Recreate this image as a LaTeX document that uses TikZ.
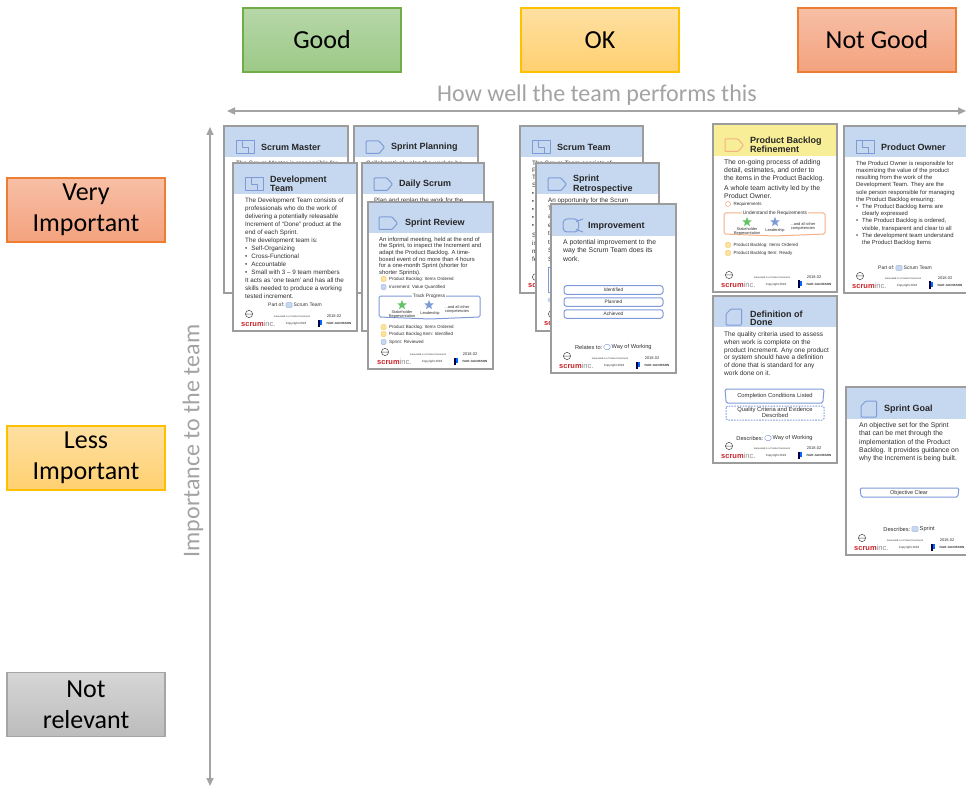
\documentclass[tikz,border=0pt]{standalone}
\usepackage{fontspec}
\setmainfont{Liberation Sans}
\newfontfamily\calib{Carlito}
\usetikzlibrary{arrows.meta,shapes.geometric}
\definecolor{cardgray}{HTML}{9C9C9C}
\definecolor{hdrblue}{HTML}{C6D8F0}
\definecolor{hdryellow}{HTML}{F8EE98}
\definecolor{iconblue}{HTML}{7E9BD8}
\definecolor{iconorange}{HTML}{F4B183}
\definecolor{ink}{HTML}{303030}
\definecolor{chipyellow}{HTML}{FDE39A}
\definecolor{chipedge}{HTML}{F6CF7A}
\definecolor{scrumred}{HTML}{C9252B}
\definecolor{axisgray}{HTML}{A3A3A3}
\newcommand\fs[2]{\fontsize{#1}{#2}\selectfont}
\newcommand\plf{5}
\tikzset{
  x=1pt,y=-1pt,
  cardline/.style={draw=cardgray,line width=1.7pt},
  bigbox/.style={minimum width=158pt,minimum height=64pt,inner sep=0pt,line width=1.2pt,font=\calib\fs{26}{31.5},align=center,text=black},
  goodbox/.style={bigbox,draw=HTMLgood,top color=HTMLgoodt,bottom color=HTMLgoodb},
  okbox/.style={bigbox,draw=HTMLok,top color=HTMLokt,bottom color=HTMLokb},
  badbox/.style={bigbox,draw=HTMLbad,top color=HTMLbadt,bottom color=HTMLbadb},
  nonebox/.style={bigbox,draw=HTMLnone,top color=HTMLnonet,bottom color=HTMLnoneb},
  axisline/.style={draw=axisgray,line width=1.5pt,{Triangle[length=8pt,width=7pt]}-{Triangle[length=8pt,width=7pt]}},
  axislabel/.style={text=axisgray,font=\calib\fs{24}{28},inner sep=0pt},
  bodytxt/.style={anchor=north west,inner sep=0pt,align=left,text=ink},
  titletxt/.style={anchor=west,inner sep=0pt,align=left,text=black!85,font=\bfseries\fs{9}{8}},
  small/.style={inner sep=0pt,text=ink,align=center},
  icon/.style={draw=iconblue,line width=1pt,line join=round},
  iconO/.style={draw=iconorange,line width=1pt,line join=round},
  chipY/.style={draw=chipedge,fill=chipyellow,line width=.5pt,rounded corners=1.2pt},
  chipB/.style={draw=iconblue!70,fill=hdrblue,line width=.5pt,rounded corners=1.2pt},
  chipW/.style={draw=iconorange,fill=white,line width=.5pt,rounded corners=1.8pt},
  chipWB/.style={draw=iconblue,fill=white,line width=.5pt,rounded corners=1.8pt},
  stateB/.style={draw=iconblue,fill=white,line width=1pt,rounded corners=1.5pt},
  stateO/.style={draw=iconorange,fill=white,line width=1pt,rounded corners=1.5pt},
}
\definecolor{HTMLgood}{HTML}{70AD47}\definecolor{HTMLgoodt}{HTML}{B7D7A9}\definecolor{HTMLgoodb}{HTML}{9CC987}
\definecolor{HTMLok}{HTML}{FFC000}\definecolor{HTMLokt}{HTML}{FEE0A2}\definecolor{HTMLokb}{HTML}{FFD070}
\definecolor{HTMLbad}{HTML}{ED7D31}\definecolor{HTMLbadt}{HTML}{F7BFA6}\definecolor{HTMLbadb}{HTML}{F4A27E}
\definecolor{HTMLnone}{HTML}{A5A5A5}\definecolor{HTMLnonet}{HTML}{D6D6D6}\definecolor{HTMLnoneb}{HTML}{BCBCBC}
% id x0 y0 x1 y1 yh colour
\newcommand\cardbox[7]{%
  \fill[white] (#2,#3) rectangle (#4,#5);
  \fill[#7] (#2,#3) rectangle (#4,#6);
  \draw[cardline] (#2,#3) rectangle (#4,#5);
}
\newcommand\ctitle[4]{\node[titletxt] (#1) at (#2,#3) {#4};}
% id x y size lead text ; y = centre of the first line
\newcommand\cbody[6]{\node[bodytxt,font=\fs{#4}{#5}] (#1) at (#2,{#3-0.38*#4}) {\vphantom{T}#6};}
\newcommand\bl[1]{\makebox[1em][l]{•}#1}
\newcommand\bc[1]{\hspace*{1em}#1}
\newcommand\iconteam[3]{\begin{scope}[shift={(#1,#2)}]
  \draw[#3] (0,0) rectangle (18.5,12.5);
  \draw[#3] (6,0) -- (6,6.2) -- (12.5,6.2) -- (12.5,12.5);
\end{scope}}
\newcommand\iconsprint[3]{\begin{scope}[shift={(#1,#2)}]
  \draw[#3,rounded corners=.8pt] (0,0) -- (13,0) -- (18.5,6.2) -- (13,12.5) -- (0,12.5) -- cycle;
\end{scope}}
\newcommand\iconimpr[3]{\begin{scope}[shift={(#1,#2)}]
  \draw[#3,rounded corners=4pt] (0,0) rectangle (15.5,13);
  \draw[#3] (13,2.5) -- (20,0) (13,10.5) -- (20,13);
\end{scope}}
\newcommand\iconwork[3]{\begin{scope}[shift={(#1,#2)}]
  \draw[#3,rounded corners=.8pt] (5,0) -- (15.5,0) -- (15.5,16) -- (0,16) -- (0,5) -- cycle;
\end{scope}}
% id x0 y1 : the part of a footer that shows on a card lying under another
\newcommand\cardlogo[3]{\begin{scope}[shift={(#2,#3)}]
  \draw[black!70,line width=.5pt] (16,-17) circle (3.6) (12.6,-17) -- (19.4,-17);
  \node[inner sep=0pt,anchor=west,font=\bfseries\fs{7.5}{8}] (#1logo) at (8,-7)
     {\textcolor{scrumred}{scrum}\textcolor{black!45}{\mdseries inc.}};
\end{scope}}
% id x0 y1
\newcommand\cardfoot[3]{\cardlogo{#1}{#2}{#3}\begin{scope}[shift={(#2,#3)}]
  \node[small,font=\fs{2.4}{3}] (#1gen) at (59,-14) {Generated in a Product Increment};
  \node[small,font=\fs{3}{3}] (#1copy) at (63,-7) {Copyright 2018};
  \node[small,font=\fs{4}{4}] (#1date) at (101,-15) {2018.02};
  \fill[black!75!blue] (85,-11.5) rectangle (86.5,-4.5);
  \fill[blue!60!cyan] (87.3,-11) rectangle (89,-6);
  \node[small,font=\bfseries\fs{3}{3}] (#1ivar) at (106,-8) {IVAR JACOBSON};
\end{scope}}
% id xicon y left-label style
\newcommand\partline[5]{%
  \draw[#5] (#2-3.2,#3-2.5) rectangle (#2+3.2,#3+2.5);
  \node[small,anchor=east,font=\fs{\plf}{5}] (#1a) at (#2-4.5,#3) {#4};
}
\newcommand\partright[4]{\node[small,anchor=west,font=\fs{\plf}{5}] (#1b) at (#2+4.5,#3) {#4};}
% id x y chip-style text
\newcommand\chip[5]{%
  \draw[#4] (#2,#3-2.5) rectangle (#2+5,#3+2.5);
  \node[small,anchor=west,font=\fs{4.5}{5}] (#1) at (#2+8,#3) {#5};
}
% name x y colour
\newcommand\astar[4]{\node[star,star points=5,star point ratio=2.3,fill=#4,draw=none,inner sep=0pt,minimum size=10pt] (#1) at (#2,#3) {};}
% state-with-bulge: id x0 y0 x1 y1 style
\newcommand\bulge[6]{\draw[#6] (#2,#3) -- (#4,#3) -- (#4,#5) -- ({(#2+#4)/2},#5+2) -- (#2,#5) -- cycle;}
\newcommand\slant[6]{%
  \draw[#6] (#2,#3) -- (#4,#3) -- (#4-1.2,#5) -- (#2+1.2,#5) -- cycle;
}
\begin{document}
\begin{tikzpicture}
\useasboundingbox (0,0) rectangle (966,786);
\fill[white] (0,0) rectangle (966,786);
% column and row headings
\node[goodbox] (good) at (322,40) {Good};
\node[okbox] (ok) at (600,40) {OK};
\node[badbox] (notgood) at (877,40) {Not Good};
\node[badbox] (very) at (86,210) {\raisebox{-2pt}{Very}\\\raisebox{-2pt}{Important}};
\node[okbox] (less) at (86,458) {\raisebox{-2pt}{Less}\\\raisebox{-2pt}{Important}};
\node[nonebox] (notrel) at (86,704.5) {Not\\relevant};
% axes
\coordinate (hL) at (227,111); \coordinate (hR) at (966,111);
\coordinate (vT) at (210,127); \coordinate (vB) at (210,786);
\draw[axisline] (hL) -- (hR);
\draw[axisline] (vT) -- (vB);
\node[axislabel] (hlabel) at (597,95) {How well the team performs this};
\node[axislabel,rotate=90] (vlabel) at (193,441) {Importance to the team};
% ---- Scrum Master
\cardbox{sm}{224}{126}{348}{293}{157}{hdrblue}
\iconteam{236}{141}{icon}
\ctitle{smt}{261}{147}{Scrum Master}
\cbody{smb}{236}{163}{6.3}{8}{The Scrum Master is responsible for}
\fill[scrumred] (231.6,283.5) rectangle (233,288);
% ---- Sprint Planning
\cardbox{sp}{354}{126}{478}{293}{157}{hdrblue}
\iconsprint{366}{141}{icon}
\ctitle{spt}{391}{147}{Sprint Planning}
\cbody{spb}{366}{163}{6.3}{8}{Collaboratively plan the work to be}
% ---- Development Team
\cardbox{dt}{233}{163}{357}{331}{194}{hdrblue}
\iconteam{245}{178}{icon}
\ctitle{dtt}{270}{184}{Development\\Team}
\cbody{dtb}{245}{200}{6.3}{8}{The Development Team consists of\\
professionals who do the work of\\
delivering a potentially releasable\\
Increment of “Done” product at the\\
end of each Sprint.\\
The development team is:\\
\bl{Self-Organizing}\\
\bl{Cross-Functional}\\
\bl{Accountable}\\
\bl{Small with 3 – 9 team members}\\
It acts as ‘one team’ and has all the\\
skills needed to produce a working\\
tested increment.}
\partline{dtp}{289}{305}{Part of:}{chipB}
\partright{dtp}{289}{305}{Scrum Team}
\cardfoot{dt}{233}{331}
% ---- Daily Scrum
\cardbox{ds}{362}{163}{484}{331}{194}{hdrblue}
\iconsprint{374}{178}{icon}
\ctitle{dst}{399}{184}{Daily Scrum}
\cbody{dsb}{374}{200}{6.3}{8}{Plan and replan the work for the}
% ---- Sprint Review
\cardbox{sr}{368}{202}{493}{369}{233}{hdrblue}
\iconsprint{379}{217}{icon}
\ctitle{srt}{405}{223}{Sprint Review}
\cbody{srb}{379}{239}{5.85}{6.6}{An informal meeting, held at the end of\\
the Sprint, to inspect the Increment and\\
adapt the Product Backlog. A time-\\
boxed event of no more than 4 hours\\
for a one-month Sprint (shorter for\\
shorter Sprints).}
\chip{src1}{381}{279}{chipY}{Product Backlog: Items Ordered}
\chip{src2}{381}{287}{chipB}{Increment: Value Quantified}
\bulge{srs}{379}{296}{480}{317}{stateB}
\node[small,fill=white,inner xsep=1pt,inner ysep=.5pt,font=\fs{4.8}{5}] (srsl) at (429,296) {Track Progress};
\astar{srg}{402}{305}{green!60!black!60}
\astar{srl}{429}{305}{iconblue}
\node[small,font=\fs{3.9}{4}] (srg1) at (402,314) {Stakeholder\\Representation};
\node[small,font=\fs{3.9}{4}] (srl1) at (430,313) {Leadership};
\node[small,font=\fs{3.9}{4}] (sro1) at (457,309) {...and all other\\competencies};
\chip{src3}{381}{327}{chipY}{Product Backlog: Items Ordered}
\chip{src4}{381}{334}{chipY}{Product Backlog Item: Identified}
\chip{src5}{381}{342}{chipB}{Sprint: Reviewed}
\cardfoot{sr}{369}{369}
% ---- Scrum Team
\cardbox{st}{520}{126}{643}{293}{157}{hdrblue}
\iconteam{532}{141}{icon}
\ctitle{stt}{557}{147}{Scrum Team}
\cbody{stb}{532}{163}{6.3}{8}{The Scrum Team consists of}
\cbody{stb2}{532}{170}{6.3}{7.7}{P\\Te\\S}
\foreach \yy [count=\ii] in {194,202,210,218,226}
  {\node[small,font=\fs{6.3}{8}] (stdot\ii) at (533,\yy) {•};}
\cbody{stb3}{532}{235}{6.3}{8}{S\\is\\m\\fe}
\draw[black!70,line width=.5pt] (536,277) circle (3.6);
\node[inner sep=0pt,anchor=west,font=\bfseries\fs{7.5}{8},text=scrumred] (stlogo) at (528,286) {scr};
% ---- Sprint Retrospective
\cardbox{re}{536}{163}{659}{331}{194}{hdrblue}
\iconsprint{548}{178}{icon}
\ctitle{ret}{573}{184}{Sprint\\Retrospective}
\cbody{reb}{548}{200}{6.3}{8}{An opportunity for the Scrum}
\cbody{reb2}{548}{208}{6.3}{8.5}{T\\a\\e\\t\\t\\S\\S}
\draw[icon] (548,268) rectangle (570,292);
\fill[hdrblue] (550,300) circle (2.5);
\draw[black!70,line width=.5pt] (552,314) circle (3.6);
\node[inner sep=0pt,anchor=west,font=\bfseries\fs{7.5}{8},text=scrumred] (relogo) at (544,324) {sc};
% ---- Improvement
\cardbox{im}{551}{204}{676}{373}{236}{hdrblue}
\iconimpr{563}{219}{icon}
\ctitle{imt}{588}{226}{Improvement}
\cbody{imb}{563}{242}{6.85}{8.4}{A potential improvement to the\\
way the Scrum Team does its\\
work.}
\foreach \yy/\tt [count=\ii] in {290/Identified,302/Planned,314/Achieved}{
  \node[stateB,rounded corners=2.5pt,minimum width=99pt,minimum height=8.5pt,inner sep=0pt,text=ink,font=\fs{4.8}{5}] (ims\ii) at (613.5,\yy) {\tt};
}
\renewcommand\plf{5.7}
\partline{imp}{607}{347}{Relates to:}{chipWB}
\partright{imp}{607}{347}{Way of Working}
\cardfoot{im}{551}{373}
% ---- Product Backlog Refinement
\cardbox{pb}{713}{124}{837}{292}{156}{hdryellow}
\iconsprint{725}{139}{iconO}
\ctitle{pbt}{750}{145}{Product Backlog\\Refinement}
\cbody{pbb}{724}{162}{6.85}{8}{The on-going process of adding\\
detail, estimates, and order to\\
the items in the Product Backlog.}
\cbody{pbb2}{724}{188}{6.85}{8}{A whole team activity led by the\\
Product Owner.}
\chip{pbc1}{725.5}{204}{chipW}{Requirements}
\bulge{pbs}{724}{213}{825}{234}{stateO}
\node[small,fill=white,inner xsep=1pt,inner ysep=.5pt,font=\fs{4.8}{5}] (pbsl) at (775,213) {Understand the Requirements};
\astar{pbg}{747}{222}{green!60!black!60}
\astar{pbl}{775}{222}{iconblue}
\node[small,font=\fs{3.9}{4}] (pbg1) at (747,231) {Stakeholder\\Representation};
\node[small,font=\fs{3.9}{4}] (pbl1) at (775,230) {Leadership};
\node[small,font=\fs{3.9}{4}] (pbo1) at (803,226) {...and all other\\competencies};
\chip{pbc2}{725.5}{245}{chipY}{Product Backlog: Items Ordered}
\chip{pbc3}{725.5}{253}{chipY}{Product Backlog Item: Ready}
\cardfoot{pb}{713}{292}
% ---- Product Owner
\cardbox{po}{844}{126}{985}{293}{157}{hdrblue}
\iconteam{856}{141}{icon}
\ctitle{pot}{881}{147}{Product Owner}
\cbody{pob}{856}{163}{5.9}{7.2}{The Product Owner is responsible for\\
maximizing the value of the product\\
resulting from the work of the\\
Development Team. They are the\\
sole person responsible for managing\\
the Product Backlog ensuring:\\
\bl{The Product Backlog Items are}\\
\bc{clearly expressed}\\
\bl{The Product Backlog is ordered,}\\
\bc{visible, transparent and clear to all}\\
\bl{The development team understand}\\
\bc{the Product Backlog Items}}
\renewcommand\plf{5}
\partline{pop}{899}{268}{Part of:}{chipB}
\partright{pop}{899}{268}{Scrum Team}
\cardfoot{po}{844}{293}
% ---- Definition of Done
\cardbox{dd}{713}{296}{837}{463}{327}{hdrblue}
\iconwork{726}{309}{icon}
\ctitle{ddt}{750}{318}{Definition of\\Done}
\cbody{ddb}{724}{334}{6.55}{7.8}{The quality criteria used to assess\\
when work is complete on the\\
product Increment. Any one product\\
or system should have a definition\\
of done that is standard for any\\
work done on it.}
\slant{dds1}{725}{389}{824}{403}{stateB}
\node[small,font=\fs{5.8}{5}] (dds1l) at (775,396) {Completion Conditions Listed};
\draw[stateB,dash pattern=on 1.6pt off 1.2pt] (726,406) rectangle (824,420);
\node[small,font=\fs{5.8}{5}] (dds2l) at (775,412.5) {Quality Criteria and Evidence\\Described};
\renewcommand\plf{5.7}
\partline{ddp}{768}{438}{Describes:}{chipWB}
\partright{ddp}{768}{438}{Way of Working}
\cardfoot{dd}{713}{463}
% ---- Sprint Goal
\cardbox{sg}{846}{387}{985}{555}{419}{hdrblue}
\iconwork{861}{401}{icon}
\ctitle{sgt}{884}{409}{Sprint Goal}
\cbody{sgb}{859}{425}{6.85}{8.3}{An objective set for the Sprint\\
that can be met through the\\
implementation of the Product\\
Backlog. It provides guidance on\\
why the Increment is being built.}
\slant{sgs}{860}{488}{959}{497}{stateB}
\node[small,font=\fs{5.5}{5}] (sgsl) at (909,493) {Objective Clear};
\partline{sgp}{915}{529}{Describes:}{chipB}
\partright{sgp}{915}{529}{Sprint}
\cardfoot{sg}{846}{555}
\end{tikzpicture}
\end{document}
